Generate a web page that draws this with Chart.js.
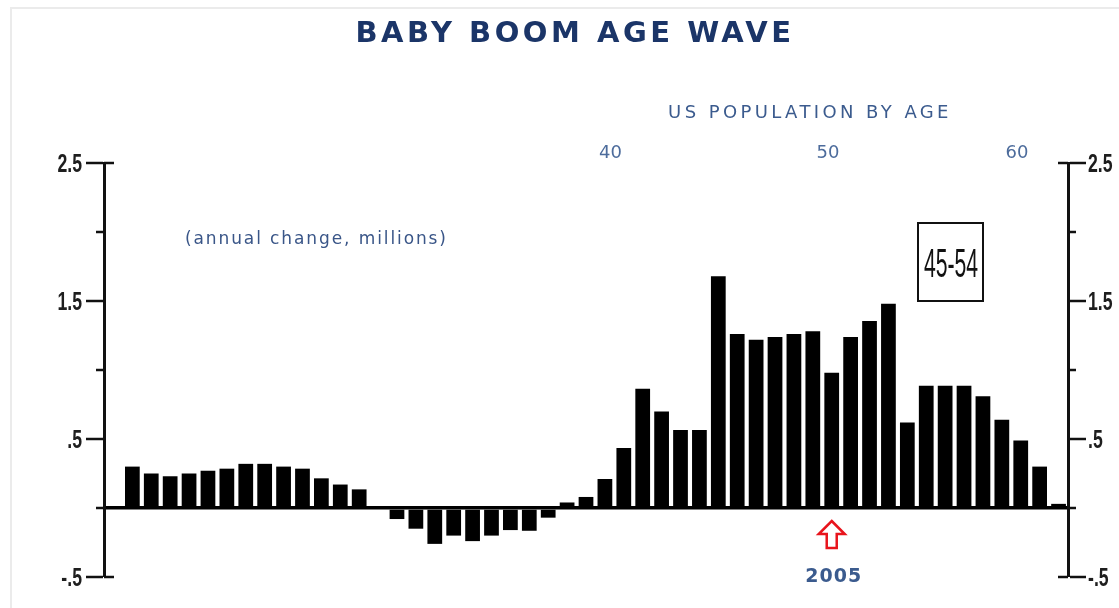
<!DOCTYPE html>
<html>
<head>
<meta charset="utf-8">
<title>Baby Boom Age Wave</title>
<script src="https://cdn.jsdelivr.net/npm/chart.js@4.4.0/dist/chart.umd.min.js"></script>
<style>
  html, body { margin: 0; padding: 0; background: #fff; }
  #wrap { position: relative; width: 1119px; height: 608px; overflow: hidden; }
  #frame { position: absolute; left: 10px; top: 7px; width: 1200px; height: 700px; border: 2px solid #ebebeb; }
  #chart { position: absolute; left: 0; top: 0; }
</style>
</head>
<body>
<div id="wrap">
  <div id="frame"></div>
  <canvas id="chart" width="1119" height="608"></canvas>
</div>
<script>
// annual change of the 45-54 population, millions
const years = [1968, 1969, 1970, 1971, 1972, 1973, 1974, 1975, 1976, 1977,
  1978, 1979, 1980, 1981, 1982, 1983, 1984, 1985, 1986, 1987,
  1988, 1989, 1990, 1991, 1992, 1993, 1994, 1995, 1996, 1997,
  1998, 1999, 2000, 2001, 2002, 2003, 2004, 2005, 2006, 2007,
  2008, 2009, 2010, 2011, 2012, 2013, 2014, 2015, 2016, 2017];
const changes = [0.30, 0.25, 0.23, 0.25, 0.27, 0.285, 0.32, 0.32, 0.30, 0.285,
  0.215, 0.17, 0.135, 0, -0.08, -0.15, -0.26, -0.20, -0.24, -0.20,
  -0.16, -0.165, -0.07, 0.04, 0.08, 0.21, 0.435, 0.865, 0.70, 0.565,
  0.565, 1.68, 1.26, 1.22, 1.24, 1.26, 1.28, 0.98, 1.24, 1.355,
  1.48, 0.62, 0.885, 0.885, 0.885, 0.81, 0.64, 0.49, 0.30, 0.03];

// value axis ticks (labelled ones and the short unlabelled ones)
const majorTicks = [2.5, 1.5, 0.5, -0.5];
const majorLabels = ['2.5', '1.5', '.5', '-.5'];
const minorTicks = [2, 1, 0];

// top "age" axis
const ageTickAt = [1993.3, 2004.8, 2014.8];
const ageLabels = ['40', '50', '60'];

const arrowYear = 2005;

const sans = "'Liberation Sans', Arial, sans-serif";
const wide = "'DejaVu Sans', Verdana, sans-serif";

function text(ctx, str, x, y, font, color, spacing, align, squeeze, baseline) {
  ctx.save();
  ctx.translate(x, y);
  if (squeeze) ctx.scale(squeeze, 1);
  ctx.font = font;
  ctx.fillStyle = color;
  ctx.letterSpacing = (spacing || 0) + 'px';
  ctx.textAlign = align || 'center';
  ctx.textBaseline = baseline || 'alphabetic';
  ctx.fillText(str, 0, 0);
  ctx.restore();
}

const extras = {
  id: 'extras',
  afterDraw(chart) {
    const ctx = chart.ctx;
    const area = chart.chartArea;

    // short ticks, end caps and condensed labels on both value axes
    ctx.save();
    ctx.strokeStyle = '#111';
    ctx.lineWidth = 2.5;
    [['y', -1, area.left], ['y1', 1, area.right]].forEach(([id, side, ax]) => {
      const sc = chart.scales[id];
      minorTicks.forEach(v => {
        const p = sc.getPixelForValue(v);
        ctx.beginPath(); ctx.moveTo(ax, p); ctx.lineTo(ax + side * 8, p); ctx.stroke();
      });
      [majorTicks[0], majorTicks[majorTicks.length - 1]].forEach(v => {
        const p = sc.getPixelForValue(v);
        ctx.beginPath(); ctx.moveTo(ax, p); ctx.lineTo(ax - side * 10, p); ctx.stroke();
      });
      majorTicks.forEach((v, i) => {
        const p = sc.getPixelForValue(v);
        const lx = side < 0 ? ax - 22 : ax + 20;
        text(ctx, majorLabels[i], lx, p + 2, 'bold 26px ' + sans, '#1e1e1e', 0,
          side < 0 ? 'right' : 'left', 0.68, 'middle');
      });
    });
    ctx.restore();

    text(ctx, 'BABY BOOM AGE WAVE', 575, 42, 'bold 29px ' + wide, '#1b3568', 3.5);
    text(ctx, 'US POPULATION BY AGE', 810, 118, '18px ' + wide, '#3b5b8e', 3.4);
    text(ctx, '(annual change, millions)', 185, 244, '17px ' + wide, '#3a5688', 1.9, 'left');

    // 45-54 box
    ctx.save();
    ctx.strokeStyle = '#111';
    ctx.lineWidth = 2;
    ctx.strokeRect(918, 223, 65, 78);
    ctx.restore();
    text(ctx, '45-54', 951, 277, '40px ' + sans, '#111', 0, 'center', 0.53);

    // red arrow at 2005
    const cx = chart.scales.x.getPixelForValue(arrowYear);
    ctx.save();
    ctx.beginPath();
    ctx.moveTo(cx, 521);
    ctx.lineTo(cx + 13, 534);
    ctx.lineTo(cx + 5, 534);
    ctx.lineTo(cx + 5, 548);
    ctx.lineTo(cx - 5, 548);
    ctx.lineTo(cx - 5, 534);
    ctx.lineTo(cx - 13, 534);
    ctx.closePath();
    ctx.fillStyle = '#fff';
    ctx.fill();
    ctx.strokeStyle = '#e8141c';
    ctx.lineWidth = 2.5;
    ctx.stroke();
    ctx.restore();
    text(ctx, String(arrowYear), cx + 2, 582, 'bold 19px ' + wide, '#3b5b8e', 1);
  }
};

function valueAxis(position, width) {
  return {
    position: position,
    min: -0.5,
    max: 2.5,
    afterFit: s => { s.width = width; },
    border: { display: true, color: '#111', width: 3 },
    grid: {
      drawOnChartArea: position === 'left',
      color: c => (c.tick && c.tick.value === 0) ? '#000' : 'rgba(0,0,0,0)',
      lineWidth: c => (c.tick && c.tick.value === 0) ? 3.5 : 0,
      tickLength: 18,
      tickWidth: 2.5,
      tickColor: c => (c.tick && majorTicks.includes(c.tick.value)) ? '#111' : 'rgba(0,0,0,0)'
    },
    ticks: { stepSize: 0.5, display: false }
  };
}

new Chart(document.getElementById('chart'), {
  type: 'bar',
  data: {
    datasets: [{
      label: '45-54',
      data: years.map((yr, i) => ({ x: yr, y: changes[i] })),
      backgroundColor: '#000',
      categoryPercentage: 1,
      barPercentage: 0.78,
      xAxisID: 'x',
      yAxisID: 'y'
    }]
  },
  options: {
    responsive: false,
    animation: false,
    devicePixelRatio: 1,
    layout: { padding: { top: 0, bottom: 31, left: 0, right: 0 } },
    plugins: { legend: { display: false }, tooltip: { enabled: false } },
    scales: {
      x: { type: 'linear', min: 1966.5, max: 2017.5, offset: false, display: false },
      x2: {
        type: 'linear',
        position: 'top',
        min: 1966.5,
        max: 2017.5,
        offset: false,
        afterFit: s => { s.height = 163; },
        afterBuildTicks: s => { s.ticks = ageTickAt.map(v => ({ value: v })); },
        border: { display: false },
        grid: { display: false, drawTicks: false },
        ticks: {
          padding: -1,
          color: '#4d6c9c',
          font: { family: wide, size: 18 },
          callback: (v, i) => ageLabels[i]
        }
      },
      y: valueAxis('left', 104),
      y1: valueAxis('right', 51)
    }
  },
  plugins: [extras]
});
</script>
</body>
</html>
